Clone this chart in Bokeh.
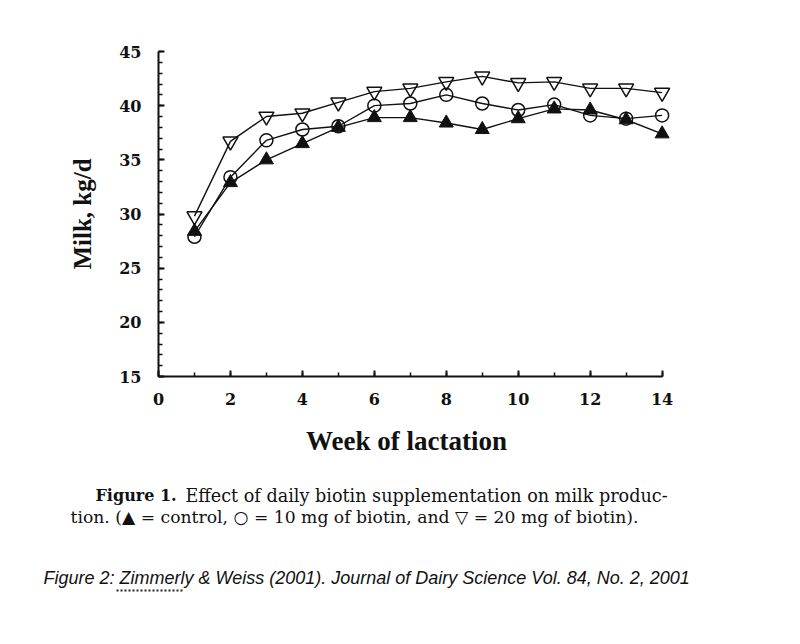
from bokeh.plotting import figure
from bokeh.layouts import column
from bokeh.models import Label, Range1d, FixedTicker
from bokeh.embed import file_html
from bokeh.resources import INLINE

# Weekly milk yield (kg/d) by biotin treatment
weeks = [1, 2, 3, 4, 5, 6, 7, 8, 9, 10, 11, 12, 13, 14]
control = [28.4, 32.9, 35.0, 36.5, 38.0, 38.9, 38.9, 38.4, 37.8, 38.8, 39.7, 39.6, 38.7, 37.4]
biotin_10 = [27.9, 33.4, 36.8, 37.8, 38.1, 40.0, 40.2, 41.0, 40.2, 39.6, 40.1, 39.1, 38.8, 39.1]
biotin_20 = [29.8, 36.7, 39.0, 39.3, 40.3, 41.3, 41.6, 42.2, 42.7, 42.1, 42.2, 41.6, 41.6, 41.2]

x_ticks = [0, 2, 4, 6, 8, 10, 12, 14]
y_ticks = [15, 20, 25, 30, 35, 40, 45]

W = 800
H_PLOT, H_TEXT = 412, 232
LEFT, TOP = 158, 51
PX_X, PX_Y = 36.0, 325 / 30
X_END, Y_END = 14.4, 45

frame_w = int(round(X_END * PX_X))
frame_h = int(round((Y_END - 15) * PX_Y))

p1 = figure(width=W, height=H_PLOT, output_backend="svg", toolbar_location=None,
            x_range=Range1d(0, X_END), y_range=Range1d(15, Y_END),
            min_border_left=LEFT, min_border_top=TOP,
            min_border_right=W - LEFT - frame_w, min_border_bottom=H_PLOT - TOP - frame_h)
p1.outline_line_color = None
p1.grid.visible = False
p1.frame_align = False

for ax, bnds in ((p1.xaxis[0], (0, 14)), (p1.yaxis[0], (15, 45))):
    ax.bounds = bnds
    ax.axis_line_width = 2
    ax.axis_line_color = "#111111"
    ax.major_tick_line_width = 2
    ax.minor_tick_line_width = 1.5
    ax.major_tick_line_color = "#111111"
    ax.minor_tick_line_color = "#111111"
    ax.major_tick_in = 6
    ax.major_tick_out = 0
    ax.minor_tick_in = 4
    ax.minor_tick_out = 0
    ax.major_label_text_font = "DejaVu Serif"
    ax.major_label_text_font_style = "bold"
    ax.major_label_text_font_size = "16px"
    ax.major_label_text_color = "#111111"

p1.xaxis.ticker = FixedTicker(ticks=x_ticks, minor_ticks=list(range(0, 15)))
p1.yaxis.ticker = FixedTicker(ticks=y_ticks, minor_ticks=list(range(15, 46)))
p1.xaxis.major_label_standoff = 16
p1.yaxis.major_label_standoff = 17

p1.yaxis.axis_label = "Milk, kg/d"
p1.yaxis.axis_label_text_font = "Liberation Serif"
p1.yaxis.axis_label_text_font_style = "bold"
p1.yaxis.axis_label_text_font_size = "25px"
p1.yaxis.axis_label_text_color = "#111111"
p1.yaxis.axis_label_standoff = 20

lw = 1.4
p1.line(weeks, biotin_20, line_color="#111111", line_width=lw)
p1.line(weeks, biotin_10, line_color="#111111", line_width=lw)
p1.line(weeks, control, line_color="#111111", line_width=lw)
p1.scatter(weeks, biotin_20, marker="inverted_triangle", size=15, line_color="#111111",
           line_width=1.5, fill_alpha=0)
p1.scatter(weeks, biotin_10, marker="circle", size=13, line_color="#111111",
           line_width=1.5, fill_alpha=0)
p1.scatter(weeks, control, marker="triangle", size=14, line_color="#111111",
           fill_color="#111111", line_width=1)

# Text panel below the chart: data units equal page pixels (y grows downward)
p2 = figure(width=W, height=H_TEXT, output_backend="svg", toolbar_location=None,
            x_range=Range1d(0, W), y_range=Range1d(H_PLOT + H_TEXT, H_PLOT),
            min_border=0, x_axis_location=None, y_axis_location=None)
p2.outline_line_color = None
p2.grid.visible = False
p2.frame_align = False

def add_text(x, y, text, **kw):
    p2.add_layout(Label(x=x, y=y, text=text, text_baseline="middle",
                        text_color="#111111", **kw))

add_text(406, 440, "Week of lactation", text_font="Liberation Serif", text_font_style="bold",
         text_font_size="27px", text_align="center")

cap = "DejaVu Serif"
add_text(95, 495, "Figure 1.", text_font=cap, text_font_style="bold", text_font_size="16px")
add_text(185, 495, "Effect of daily biotin supplementation on milk produc-",
         text_font=cap, text_font_size="17.6px")
add_text(70, 516, "tion. (\u25B2 = control, \u25CB = 10 mg of biotin, and \u25BD = 20 mg of biotin).",
         text_font=cap, text_font_size="17.2px")
add_text(43, 577, "Figure 2: Zimmerly & Weiss (2001). Journal of Dairy Science Vol. 84, No. 2, 2001",
         text_font="Liberation Sans", text_font_style="italic", text_font_size="18px")
# spell-check style dotted underline beneath the author name
p2.line([116, 183], [590, 590], line_color="#222222", line_width=2, line_dash="2 2")

layout = column(p1, p2, spacing=0)
open("out.html", "w").write(file_html(layout, INLINE))
